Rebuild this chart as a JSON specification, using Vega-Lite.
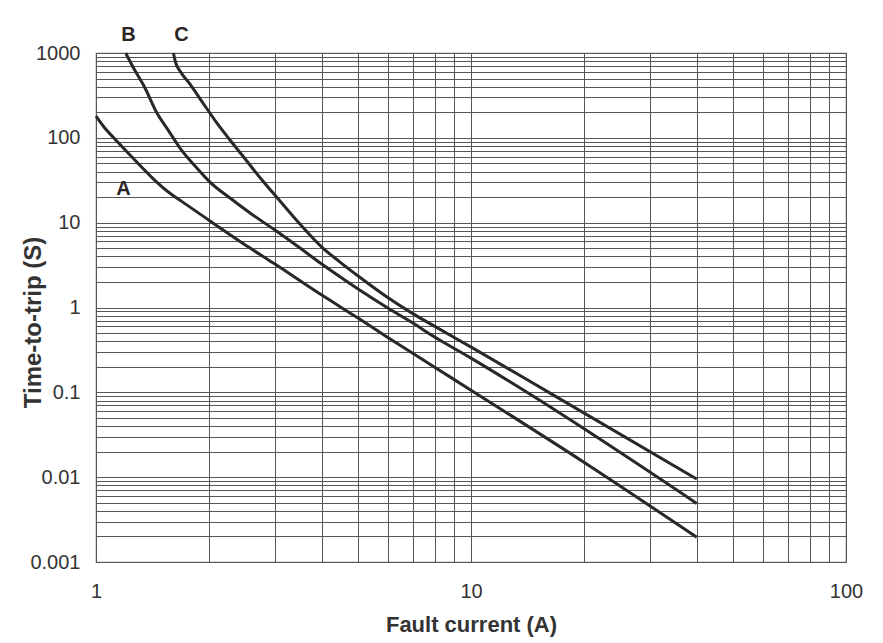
{
  "$schema": "https://vega.github.io/schema/vega-lite/v6.json",
  "width": 750,
  "height": 509,
  "autosize": {"type": "none"},
  "padding": {"left": 96, "top": 53, "right": 37, "bottom": 81},
  "background": "white",
  "config": {
    "view": {"stroke": "#777", "strokeWidth": 1.2},
    "font": "Liberation Sans"
  },
  "datasets": {
    "curves": [
      {"curve": "A", "current": 1.0, "time": 180},
      {"curve": "A", "current": 1.05, "time": 134},
      {"curve": "A", "current": 1.11, "time": 102},
      {"curve": "A", "current": 1.247, "time": 59.4},
      {"curve": "A", "current": 1.419, "time": 33.1},
      {"curve": "A", "current": 1.547, "time": 23.6},
      {"curve": "A", "current": 1.696, "time": 17.7},
      {"curve": "A", "current": 2.0, "time": 10.7},
      {"curve": "A", "current": 2.575, "time": 5.02},
      {"curve": "A", "current": 3.0, "time": 3.25},
      {"curve": "A", "current": 4.0, "time": 1.4},
      {"curve": "A", "current": 5.0, "time": 0.75},
      {"curve": "A", "current": 6.0, "time": 0.444},
      {"curve": "A", "current": 8.0, "time": 0.198},
      {"curve": "A", "current": 10.0, "time": 0.106},
      {"curve": "A", "current": 20.0, "time": 0.015},
      {"curve": "A", "current": 40.0, "time": 0.00196},
      {"curve": "B", "current": 1.2, "time": 1000},
      {"curve": "B", "current": 1.255, "time": 684},
      {"curve": "B", "current": 1.351, "time": 387},
      {"curve": "B", "current": 1.454, "time": 196},
      {"curve": "B", "current": 1.556, "time": 124},
      {"curve": "B", "current": 1.675, "time": 75.8},
      {"curve": "B", "current": 1.837, "time": 46.5},
      {"curve": "B", "current": 2.013, "time": 30.1},
      {"curve": "B", "current": 2.277, "time": 19.5},
      {"curve": "B", "current": 2.575, "time": 13.0},
      {"curve": "B", "current": 3.0, "time": 8.18},
      {"curve": "B", "current": 3.5, "time": 5.02},
      {"curve": "B", "current": 4.0, "time": 3.25},
      {"curve": "B", "current": 5.0, "time": 1.65},
      {"curve": "B", "current": 6.0, "time": 0.985},
      {"curve": "B", "current": 7.0, "time": 0.655},
      {"curve": "B", "current": 8.0, "time": 0.448},
      {"curve": "B", "current": 10.0, "time": 0.253},
      {"curve": "B", "current": 14.1, "time": 0.1},
      {"curve": "B", "current": 40.0, "time": 0.0049},
      {"curve": "C", "current": 1.609, "time": 1000},
      {"curve": "C", "current": 1.629, "time": 783},
      {"curve": "C", "current": 1.675, "time": 613},
      {"curve": "C", "current": 1.781, "time": 431},
      {"curve": "C", "current": 1.929, "time": 257},
      {"curve": "C", "current": 2.102, "time": 149},
      {"curve": "C", "current": 2.277, "time": 94.2},
      {"curve": "C", "current": 2.451, "time": 62.7},
      {"curve": "C", "current": 2.771, "time": 31.8},
      {"curve": "C", "current": 3.095, "time": 18.0},
      {"curve": "C", "current": 3.499, "time": 9.63},
      {"curve": "C", "current": 4.0, "time": 5.16},
      {"curve": "C", "current": 4.474, "time": 3.43},
      {"curve": "C", "current": 5.0, "time": 2.35},
      {"curve": "C", "current": 5.97, "time": 1.33},
      {"curve": "C", "current": 6.96, "time": 0.859},
      {"curve": "C", "current": 8.07, "time": 0.587},
      {"curve": "C", "current": 10.12, "time": 0.332},
      {"curve": "C", "current": 16.25, "time": 0.0978},
      {"curve": "C", "current": 40.0, "time": 0.0095}
    ],
    "labels": [
      {"curve": "A", "current": 1.184, "time": 25.2},
      {"curve": "B", "current": 1.221, "time": 1650},
      {"curve": "C", "current": 1.69, "time": 1650}
    ]
  },
  "layer": [
    {
      "data": {"name": "curves"},
      "mark": {"type": "line", "color": "#2b2724", "strokeWidth": 3, "interpolate": "monotone"},
      "encoding": {
        "x": {
          "field": "current",
          "type": "quantitative",
          "scale": {"type": "log", "domain": [1, 100]},
          "axis": {
            "values": [1, 2, 3, 4, 5, 6, 7, 8, 9, 10, 20, 30, 40, 50, 60, 70, 80, 90, 100],
            "format": "~g",
            "labelExpr": "indexof([1,10,100], datum.value) >= 0 ? format(datum.value, '~g') : ''",
            "labelOverlap": false,
            "labelFlush": false,
            "grid": true,
            "gridColor": "#555",
            "gridWidth": 1,
            "ticks": false,
            "domain": false,
            "labelFontSize": 20,
            "labelColor": "#333",
            "labelPadding": 19,
            "title": "Fault current (A)",
            "titleFontSize": 22,
            "titleFontWeight": "bold",
            "titleColor": "#333",
            "titleY": 52
          }
        },
        "y": {
          "field": "time",
          "type": "quantitative",
          "scale": {"type": "log", "domain": [0.001, 1000]},
          "axis": {
            "values": [0.001, 0.002, 0.003, 0.004, 0.005, 0.006, 0.007, 0.008, 0.009, 0.01, 0.02, 0.03, 0.04, 0.05, 0.06, 0.07, 0.08, 0.09, 0.1, 0.2, 0.3, 0.4, 0.5, 0.6, 0.7, 0.8, 0.9, 1, 2, 3, 4, 5, 6, 7, 8, 9, 10, 20, 30, 40, 50, 60, 70, 80, 90, 100, 200, 300, 400, 500, 600, 700, 800, 900, 1000],
            "format": "~g",
            "labelExpr": "indexof([0.001,0.01,0.1,1,10,100,1000], datum.value) >= 0 ? format(datum.value, '~g') : ''",
            "labelOverlap": false,
            "labelFlush": false,
            "grid": true,
            "gridColor": "#555",
            "gridWidth": 1,
            "ticks": false,
            "domain": false,
            "labelFontSize": 20,
            "labelColor": "#333",
            "labelPadding": 16,
            "title": "Time-to-trip (S)",
            "titleFontSize": 24,
            "titleFontWeight": "bold",
            "titleColor": "#333",
            "titleX": -56,
            "titleY": 269,
            "titleBaseline": "alphabetic"
          }
        },
        "detail": {"field": "curve"}
      }
    },
    {
      "data": {"name": "labels"},
      "mark": {"type": "text", "fontWeight": "bold", "fontSize": 20, "color": "#2b2724", "clip": false, "baseline": "middle", "align": "center"},
      "encoding": {
        "x": {"field": "current", "type": "quantitative"},
        "y": {"field": "time", "type": "quantitative"},
        "text": {"field": "curve"}
      }
    }
  ]
}
